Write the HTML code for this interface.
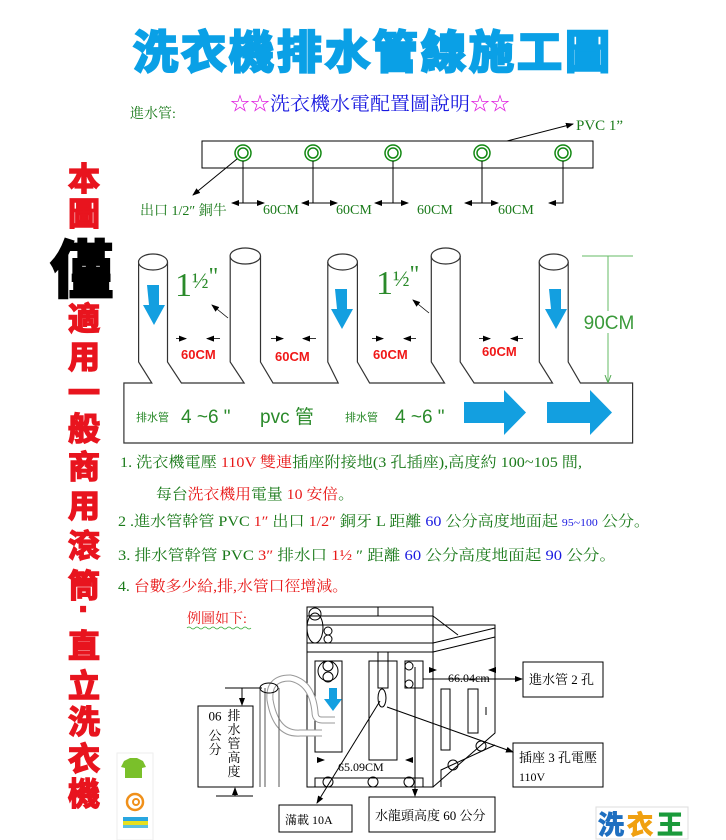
<!DOCTYPE html>
<html><head><meta charset="utf-8"><style>
body{margin:0;background:#fff;}
svg{display:block;}
.s{font-family:"Liberation Serif","Noto Serif CJK SC",serif;}
.a{font-family:"Liberation Sans","Noto Sans CJK SC",sans-serif;}
</style></head><body>
<svg width="726" height="840" viewBox="0 0 726 840" xmlns="http://www.w3.org/2000/svg">
<defs>
<marker id="ah" markerWidth="8" markerHeight="8" refX="7" refY="4" orient="auto" markerUnits="userSpaceOnUse"><path d="M0,1 L8,4 L0,7z" fill="#000"/></marker>
<marker id="ag" markerWidth="8" markerHeight="8" refX="7" refY="4" orient="auto" markerUnits="userSpaceOnUse"><path d="M0,1 L8,4 L0,7" fill="none" stroke="#5a5" /></marker>
</defs>
<!-- Title -->
<text x="373" y="68" text-anchor="middle" class="a" font-size="45" font-weight="bold" fill="#0aa0e6" stroke="#0aa0e6" stroke-width="2.5" letter-spacing="3">洗衣機排水管線施工圖</text>

<!-- Left vertical text -->
<g class="a" font-weight="bold" text-anchor="middle" fill="#e8141e" stroke="#e8141e" stroke-width="1.5" font-size="32">
<text x="84" y="190">本</text>
<text x="84" y="225">圖</text>
<text x="82" y="292" font-size="62" fill="#000" stroke="#000" stroke-width="3">僅</text>
<text x="84" y="330">適</text>
<text x="84" y="368">用</text>
<text x="84" y="404">一</text>
<text x="84" y="440">般</text>
<text x="84" y="478">商</text>
<text x="84" y="517">用</text>
<text x="84" y="557">滾</text>
<text x="84" y="597">筒</text>
<text x="84" y="620">·</text>
<text x="84" y="657">直</text>
<text x="84" y="697">立</text>
<text x="84" y="733">洗</text>
<text x="84" y="770">衣</text>
<text x="84" y="805">機</text>
</g>

<!-- Top water supply -->
<text x="130" y="118" class="s" font-size="14" fill="#1a7a1a">進水管:</text>
<text x="230" y="110" class="s" font-size="19" textLength="280" lengthAdjust="spacingAndGlyphs"><tspan fill="#e020e0">☆☆</tspan><tspan fill="#1a1ae0">洗衣機水電配置圖說明</tspan><tspan fill="#e020e0">☆☆</tspan></text>
<text x="576" y="130" class="s" font-size="15" fill="#1a7a1a">PVC 1”</text>
<line x1="507" y1="141" x2="573" y2="124" stroke="#000" marker-end="url(#ah)"/>
<rect x="202" y="141" width="391" height="27" fill="none" stroke="#000"/>
<g fill="none" stroke="#118811" stroke-width="1.5">
<circle cx="243" cy="153" r="8"/><circle cx="243" cy="153" r="5"/>
<circle cx="313" cy="153" r="8"/><circle cx="313" cy="153" r="5"/>
<circle cx="393" cy="153" r="8"/><circle cx="393" cy="153" r="5"/>
<circle cx="482" cy="153" r="8"/><circle cx="482" cy="153" r="5"/>
<circle cx="563" cy="153" r="8"/><circle cx="563" cy="153" r="5"/>
</g>
<g stroke="#000" fill="none">
<line x1="243" y1="161" x2="243" y2="203"/><line x1="313" y1="161" x2="313" y2="203"/><line x1="393" y1="161" x2="393" y2="203"/><line x1="482" y1="161" x2="482" y2="203"/><path d="M563,161 V203 H549" marker-end="url(#ah)"/>
<line x1="243" y1="203" x2="232" y2="203" marker-end="url(#ah)"/><line x1="243" y1="203" x2="264" y2="203" marker-end="url(#ah)"/>
<line x1="313" y1="203" x2="302" y2="203" marker-end="url(#ah)"/><line x1="313" y1="203" x2="337" y2="203" marker-end="url(#ah)"/>
<line x1="393" y1="203" x2="375" y2="203" marker-end="url(#ah)"/><line x1="393" y1="203" x2="408" y2="203" marker-end="url(#ah)"/>
<line x1="482" y1="203" x2="465" y2="203" marker-end="url(#ah)"/><line x1="482" y1="203" x2="498" y2="203" marker-end="url(#ah)"/>
<line x1="237" y1="159" x2="193" y2="195" marker-end="url(#ah)"/>
</g>
<g class="s" font-size="14" fill="#1a7a1a">
<text x="140" y="215">出口 1/2″ 銅牛</text>
<text x="263" y="214">60CM</text><text x="336" y="214">60CM</text><text x="417" y="214">60CM</text><text x="498" y="214">60CM</text>
</g>

<!-- Drain pipes -->
<g fill="none" stroke="#333" stroke-width="1.2">
<path d="M138.6,262 V362 L151.8,383 H123.9 V443 H632.6 V383 H580.4 L568.2,362 V262"/>
<path d="M167.5,262 V362 L181.4,383 H244.1 L230.2,362 V256"/>
<path d="M260.5,256 V362 L273,383 H338.2 L327.8,362 V262"/>
<path d="M357.4,262 V362 L369.6,383 H444.5 L431.3,362 V256"/>
<path d="M460.2,256 V362 L474.1,383 H552.5 L539.3,362 V262"/>
<ellipse cx="153" cy="262" rx="14.5" ry="8" fill="#fff"/>
<ellipse cx="245.3" cy="256" rx="15.2" ry="8" fill="#fff"/>
<ellipse cx="342.6" cy="262" rx="14.8" ry="8" fill="#fff"/>
<ellipse cx="445.7" cy="256" rx="14.5" ry="8" fill="#fff"/>
<ellipse cx="553.7" cy="262" rx="14.5" ry="8" fill="#fff"/>
</g>
<g fill="#139fe0">
<path d="M147,285 h12 v20 h6 l-11,20 l-11,-20 h6z"/>
<path d="M335,289 h12 v20 h6 l-11,20 l-11,-20 h6z"/>
<path d="M549,289 h12 v20 h6 l-11,20 l-11,-20 h6z"/>
<path d="M464,402 h40 v-12 l22,22.5 l-22,22.5 v-12 h-40z"/>
<path d="M547,402 h43 v-12 l22,22.5 l-22,22.5 v-12 h-43z"/>
</g>
<g class="s" font-size="34" fill="#2a8a2a"><text x="175" y="296">1<tspan font-size="22" dy="-8">½</tspan><tspan font-size="24" dy="-4">"</tspan></text>
<text x="376" y="294">1<tspan font-size="22" dy="-8">½</tspan><tspan font-size="24" dy="-4">"</tspan></text></g>
<g stroke="#000" stroke-width="0.8" fill="none">
<line x1="228" y1="318" x2="212" y2="305" marker-end="url(#ah)"/>
<line x1="429" y1="313" x2="413" y2="300" marker-end="url(#ah)"/>
<line x1="176" y1="338.6" x2="186" y2="338.6" marker-end="url(#ah)"/><line x1="220" y1="338.6" x2="207" y2="338.6" marker-end="url(#ah)"/>
<line x1="271" y1="338.6" x2="283" y2="338.6" marker-end="url(#ah)"/><line x1="316" y1="338.6" x2="303" y2="338.6" marker-end="url(#ah)"/>
<line x1="372" y1="338.6" x2="383" y2="338.6" marker-end="url(#ah)"/><line x1="416" y1="338.6" x2="404" y2="338.6" marker-end="url(#ah)"/>
<line x1="479" y1="338.6" x2="490" y2="338.6" marker-end="url(#ah)"/><line x1="523" y1="338.6" x2="511" y2="338.6" marker-end="url(#ah)"/>
</g>
<g class="a" font-size="13" font-weight="bold" fill="#f01818">
<text x="181" y="359">60CM</text><text x="275" y="361">60CM</text><text x="373" y="359">60CM</text><text x="482" y="356">60CM</text>
</g>
<g stroke="#6b6" fill="none"><line x1="582" y1="256" x2="633" y2="256"/><line x1="608" y1="256" x2="608" y2="382" marker-end="url(#ag)"/></g>
<rect x="586" y="311" width="46" height="22" fill="#fff"/>
<text x="609" y="329" text-anchor="middle" class="a" font-size="19" fill="#3a9a3a">90CM</text>
<g class="a" fill="#2a8a2a">
<text x="136" y="421" font-size="11">排水管</text>
<text x="181" y="423" font-size="19">4 ~6 "</text>
<text x="260" y="423" font-size="19">pvc 管</text>
<text x="345" y="421" font-size="11">排水管</text>
<text x="395" y="423" font-size="19">4 ~6 "</text>
</g>

<!-- Numbered list -->
<g class="s" font-size="15" fill="#1a7a1a">
<text x="120" y="467" textLength="462" lengthAdjust="spacingAndGlyphs">1.  洗衣機電壓 <tspan fill="#e81818">110V 雙連</tspan>插座附接地(3 孔插座),高度約 100~105 間,</text>
<text x="156" y="499" textLength="198" lengthAdjust="spacingAndGlyphs">每台<tspan fill="#e81818">洗衣機用</tspan>電量 <tspan fill="#e81818">10 安倍</tspan>。</text>
<text x="118" y="526" textLength="532" lengthAdjust="spacingAndGlyphs">2 .進水管幹管 PVC <tspan fill="#e81818">1″</tspan> 出口 <tspan fill="#e81818"> 1/2″</tspan> 銅牙 L 距離 <tspan fill="#1a1ae0">60</tspan> 公分高度地面起 <tspan fill="#1a1ae0" font-size="11">95~100</tspan> 公分。</text>
<text x="118" y="560" textLength="498" lengthAdjust="spacingAndGlyphs">3.  排水管幹管 PVC <tspan fill="#e81818">3″</tspan>  排水口 <tspan fill="#e81818">1½ </tspan> ″  距離 <tspan fill="#1a1ae0">60</tspan> 公分高度地面起 <tspan fill="#1a1ae0">90</tspan> 公分。</text>
<text x="118" y="591" textLength="230" lengthAdjust="spacingAndGlyphs">4.  <tspan fill="#e81818">台數多少給,排,水管口徑增減。</tspan></text>
</g>

<!-- Bottom diagram -->
<text x="187" y="623" class="s" font-size="14" fill="#e81818">例圖如下:</text>
<path d="M187,628 q2,-2 4,0 t4,0 t4,0 t4,0 t4,0 t4,0 t4,0 t4,0 t4,0 t4,0 t4,0 t4,0 t4,0 t4,0 t4,0 t4,0" fill="none" stroke="#3a3" stroke-width="0.8"/>
<g fill="none" stroke="#000" stroke-width="1">
<rect x="307" y="607" width="126" height="180"/>
<path d="M307,607 H378 V616"/>
<line x1="307" y1="616" x2="433" y2="616"/><line x1="307" y1="625" x2="433" y2="625"/>
<line x1="307" y1="643" x2="433" y2="643"/><line x1="307" y1="652" x2="433" y2="652"/>
<path d="M433,616 L458,635"/><path d="M433,625 H495 V733 L433,787"/>
<path d="M433,643 L495,628"/><path d="M433,652 L495,637"/>
<path d="M441,787 V770 L495,745"/>
<rect x="441" y="689" width="9" height="61"/><rect x="468" y="689" width="10" height="44"/>
<line x1="486" y1="707" x2="486" y2="715"/>
<circle cx="453" cy="765" r="5"/><circle cx="481" cy="746" r="5"/>
<rect x="315" y="661" width="27" height="91"/>
<rect x="369" y="661" width="28" height="99"/>
<rect x="405" y="661" width="18" height="27"/>
<rect x="378" y="652" width="10" height="36"/>
<ellipse cx="382" cy="698" rx="4" ry="9"/>
<rect x="315" y="778" width="108" height="9"/>
<circle cx="328" cy="782" r="5"/><circle cx="373" cy="782" r="5"/><circle cx="409" cy="782" r="5"/>
<ellipse cx="315" cy="628" rx="8" ry="15"/><circle cx="315" cy="614" r="6"/>
<circle cx="328" cy="631" r="4"/><circle cx="328" cy="639" r="4"/>
<circle cx="328" cy="666" r="5"/><circle cx="328" cy="677" r="5"/><circle cx="328" cy="671" r="10"/>
<circle cx="409" cy="666" r="4"/><circle cx="409" cy="684" r="4"/>
</g>
<path d="M335,720 H322 Q315,720 315,712 Q312,682 290,678 Q268,678 270,700 Q276,735 300,733 L322,733" fill="none" stroke="#999" stroke-width="7"/>
<path d="M335,720 H322 Q315,720 315,712 Q312,682 290,678 Q268,678 270,700 Q276,735 300,733 L322,733" fill="none" stroke="#fff" stroke-width="5"/>
<path d="M329,688 h8 v11 h5 l-9,12 l-9,-12 h5z" fill="#139fe0"/>
<g fill="none" stroke="#000" stroke-width="1">
<line x1="260" y1="688" x2="260" y2="787" stroke="#555"/><line x1="265" y1="688" x2="265" y2="787" stroke="#555"/><line x1="279" y1="688" x2="279" y2="787" stroke="#555"/>
<ellipse cx="269" cy="688" rx="9" ry="5"/>
<line x1="225" y1="688" x2="262" y2="688"/><line x1="242" y1="688" x2="242" y2="705" marker-end="url(#ah)"/>
<line x1="216" y1="796" x2="253" y2="796"/><line x1="235" y1="796" x2="235" y2="788" marker-end="url(#ah)"/>
<rect x="198" y="706" width="55" height="81"/>
<rect x="523" y="662" width="80" height="35"/>
<rect x="513" y="743" width="90" height="44"/>
<rect x="279" y="805" width="73" height="27"/>
<rect x="369" y="797" width="126" height="35"/>
<line x1="423" y1="679" x2="522" y2="679" marker-end="url(#ah)"/>
<line x1="429" y1="670" x2="436" y2="670" marker-end="url(#ah)"/><line x1="496" y1="670" x2="489" y2="670" marker-end="url(#ah)"/>
<line x1="317" y1="760" x2="324" y2="760" marker-end="url(#ah)"/><line x1="413" y1="760" x2="406" y2="760" marker-end="url(#ah)"/>
<line x1="387" y1="707" x2="513" y2="752" marker-end="url(#ah)"/>
<line x1="380" y1="701" x2="317" y2="803" marker-end="url(#ah)"/>
<line x1="415" y1="667" x2="415" y2="796" marker-end="url(#ah)"/>
</g>
<g class="s" font-size="12" fill="#000">
<text x="448" y="682">66.04cm</text>
<text x="338" y="771">65.09CM</text>
<text x="529" y="684" font-size="13">進水管 2 孔</text>
<text x="519" y="762" font-size="13">插座 3 孔電壓</text>
<text x="519" y="781" font-size="12">110V</text>
<text x="285" y="824">滿載 10A</text>
<text x="375" y="820" font-size="13">水龍頭高度 60 公分</text>
</g>
<g class="s" font-size="13" fill="#000" text-anchor="middle">
<text x="234" y="720">排</text><text x="234" y="734">水</text><text x="234" y="748">管</text><text x="234" y="762">高</text><text x="234" y="776">度</text>
<text x="215" y="720" transform="rotate(180 215 716)">90</text><text x="215" y="740">公</text><text x="215" y="754">分</text>
</g>

<!-- logos -->
<rect x="117" y="753" width="36" height="87" fill="#fff" stroke="#eee"/>
<path d="M124,761 l6,-3 h7 l6,3 l3,6 l-4,1 v10 h-17 v-10 l-4,-1z" fill="#7ac02a"/>
<circle cx="135" cy="802" r="8" fill="none" stroke="#f0901a" stroke-width="2.5"/>
<circle cx="136" cy="802" r="3" fill="none" stroke="#f0901a" stroke-width="2"/>
<rect x="123" y="817" width="25" height="4" fill="#29a6e0"/><rect x="123" y="821" width="25" height="4" fill="#e6e020"/><rect x="123" y="825" width="25" height="3" fill="#5cc0e0"/>
<rect x="596" y="807" width="92" height="32" fill="#fff" stroke="#ddd"/>
<g class="a" font-size="26" font-weight="bold" stroke-width="1"><text x="598" y="834" fill="#1e6fc0" stroke="#1e6fc0">洗</text><text x="627" y="834" fill="#f0a010" stroke="#f0a010">衣</text><text x="657" y="834" fill="#1a9a3a" stroke="#1a9a3a">王</text></g>
</svg>
</body></html>
